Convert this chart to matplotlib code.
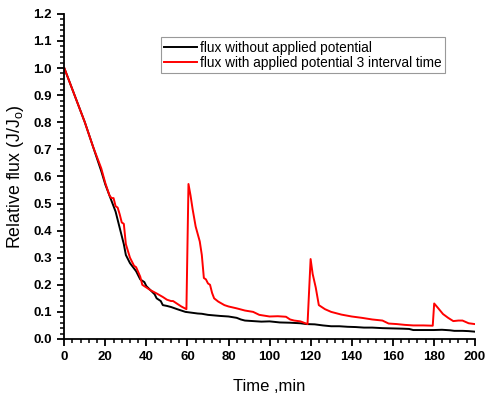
import matplotlib
matplotlib.use("Agg")
import matplotlib.pyplot as plt
from matplotlib.ticker import MultipleLocator

### DATA ###
t_black = [0, 3, 6, 10, 14, 18, 20, 22, 24, 25, 27, 29, 30, 32, 34, 35, 37, 39, 40, 42,
           44, 45, 47, 48, 50, 52, 55, 57, 59, 62, 65, 67, 70, 73, 76, 80, 84, 86, 88,
           92, 96, 100, 105, 110, 115, 118, 122, 126, 130, 134, 138, 142, 146, 150,
           155, 160, 165, 168, 170, 175, 180, 184, 188, 190, 194, 197, 200]
f_black = [1.0, 0.94, 0.88, 0.80, 0.71, 0.62, 0.57, 0.53, 0.49, 0.47, 0.41, 0.35, 0.31,
           0.28, 0.26, 0.25, 0.22, 0.21, 0.195, 0.18, 0.165, 0.15, 0.14, 0.125, 0.122,
           0.118, 0.11, 0.105, 0.10, 0.097, 0.094, 0.093, 0.089, 0.087, 0.085, 0.083,
           0.078, 0.072, 0.068, 0.066, 0.064, 0.065, 0.061, 0.060, 0.058, 0.055, 0.054,
           0.050, 0.047, 0.047, 0.045, 0.044, 0.042, 0.042, 0.040, 0.039, 0.038, 0.037,
           0.033, 0.033, 0.033, 0.034, 0.032, 0.030, 0.030, 0.029, 0.027]

t_red = [0, 3, 6, 10, 14, 18, 20, 22, 23, 24, 25, 26, 27, 28, 29, 30, 32, 34, 35, 37,
         38, 40, 42, 45, 48, 50, 52, 53, 55, 57, 59.5, 60.5, 61.5, 62.5, 64, 66, 67,
         68, 69, 70, 71, 72, 73, 75, 78, 80, 84, 88, 92, 95, 100, 104, 108, 110, 112,
         115, 118.5, 120, 121, 122.5, 124, 127, 130, 135, 140, 145, 150, 155, 158, 162,
         166, 170, 175, 179.5, 180.2, 182, 184.5, 187, 189.5, 192, 194, 197, 200]
f_red = [1.0, 0.94, 0.88, 0.80, 0.71, 0.63, 0.575, 0.53, 0.52, 0.52, 0.49, 0.485, 0.46,
         0.43, 0.425, 0.35, 0.30, 0.27, 0.265, 0.23, 0.20, 0.19, 0.18, 0.168, 0.155,
         0.145, 0.14, 0.14, 0.13, 0.12, 0.11, 0.572, 0.53, 0.48, 0.415, 0.36, 0.31,
         0.225, 0.22, 0.205, 0.20, 0.17, 0.15, 0.138, 0.125, 0.12, 0.113, 0.105, 0.10,
         0.089, 0.083, 0.084, 0.082, 0.072, 0.068, 0.065, 0.055, 0.295, 0.24, 0.19,
         0.125, 0.11, 0.10, 0.09, 0.083, 0.078, 0.072, 0.068, 0.057, 0.055, 0.052, 0.050,
         0.050, 0.049, 0.131, 0.115, 0.092, 0.078, 0.066, 0.068, 0.068, 0.058, 0.055]

x_ticks = [0, 20, 40, 60, 80, 100, 120, 140, 160, 180, 200]
y_ticks = [0.0, 0.1, 0.2, 0.3, 0.4, 0.5, 0.6, 0.7, 0.8, 0.9, 1.0, 1.1, 1.2]

### PLOT ###
plt.rcParams['font.family'] = ['Liberation Sans', 'DejaVu Sans']
fig = plt.figure(figsize=(4.87, 3.96), dpi=100)
ax = fig.add_axes([0.132, 0.144, 0.843, 0.821])

ax.plot(t_black, f_black, color='black', lw=1.4, label='flux without applied potential')
ax.plot(t_red, f_red, color='#ff0000', lw=1.4, label='flux with applied potential 3 interval time')

ax.set_xlim(0, 200)
ax.set_ylim(0, 1.2)
ax.set_xticks(x_ticks)
ax.set_yticks(y_ticks)
ax.set_yticklabels([f"{v:.1f}" for v in y_ticks])
ax.xaxis.set_minor_locator(MultipleLocator(4))
ax.yaxis.set_minor_locator(MultipleLocator(0.02))

for s in ['top', 'right']:
    ax.spines[s].set_visible(False)
for s in ['left', 'bottom']:
    ax.spines[s].set_linewidth(1.3)

ax.tick_params(which='major', direction='out', length=5, width=1.3, labelsize=9.5, pad=4)
ax.tick_params(which='minor', direction='out', length=3, width=1.1)
for lab in ax.get_xticklabels() + ax.get_yticklabels():
    lab.set_fontweight('bold')

ax.set_xlabel('Time ,min', fontsize=12, labelpad=11)
ax.set_ylabel('Relative flux (J/J$_\\mathregular{o}$)', fontsize=12.8, labelpad=5)

leg = ax.legend(loc='upper left', bbox_to_anchor=(0.235, 0.928), fontsize=9.8,
                fancybox=False, framealpha=1, edgecolor='#999999', handlelength=2.4,
                borderpad=0.25, labelspacing=0.1, handletextpad=0.2, borderaxespad=0)
leg.get_frame().set_linewidth(0.8)

fig.savefig('out.png', dpi=100)
